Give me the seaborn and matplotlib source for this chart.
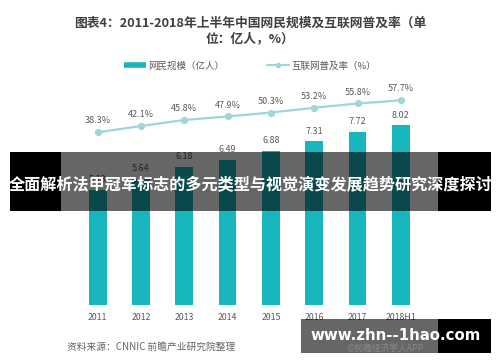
import matplotlib
matplotlib.use("Agg")
import matplotlib.pyplot as plt
import seaborn as sns
import pandas as pd
from matplotlib.lines import Line2D
from matplotlib.patches import Rectangle

years = ["2011", "2012", "2013", "2014", "2015", "2016", "2017", "2018H1"]
users = [5.13, 5.64, 6.18, 6.49, 6.88, 7.31, 7.72, 8.02]
rates = [38.3, 42.1, 45.8, 47.9, 50.3, 53.2, 55.8, 57.7]

title_text = "图表4：2011-2018年上半年中国网民规模及互联网普及率（单\n位：亿人，%）"
legend_bar = "网民规模（亿人）"
legend_line = "互联网普及率（%）"
source_text = "资料来源：CNNIC 前瞻产业研究院整理"
banner_text = "全面解析法甲冠军标志的多元类型与视觉演变发展趋势研究深度探讨"
watermark_text = "www.zhn--1hao.com"
app_text = "@前瞻经济学人APP"

sns.set_theme(style="white")
plt.rcParams['font.family'] = ['Noto Sans CJK SC', 'DejaVu Sans']

BAR = "#17b6bc"
LINE = "#9ed6da"
GRAY = "#595959"

df = pd.DataFrame({"year": years, "users": users, "rate": rates})

fig = plt.figure(figsize=(5.0, 3.62), dpi=100)
ax = fig.add_axes([0.152, 0.1575, 0.693, 0.619])
sns.barplot(data=df, x="year", y="users", color=BAR, width=0.41, ax=ax,
            saturation=1, edgecolor="none")
ax.set_ylim(0, 10)
ax.set_xlim(-0.5, len(years) - 0.5)
for i, v in enumerate(users):
    ax.annotate(f"{v:.2f}", (i, v), xytext=(0, 4), textcoords="offset points",
                ha="center", va="bottom", fontsize=6.5, color=GRAY)

ax2 = ax.twinx()
sns.pointplot(data=df, x="year", y="rate", color=LINE, markers="o",
              markersize=4, linewidth=1.6, ax=ax2)
ax2.set_ylim(-66.5, 69.5)
ax2.set_xlim(-0.5, len(years) - 0.5)
for i, v in enumerate(rates):
    ax2.annotate(f"{v:.1f}%", (i, v), xytext=(0, 5), textcoords="offset points",
                 ha="center", va="bottom", fontsize=6.5, color=GRAY)

for a in (ax, ax2):
    for s in a.spines.values():
        s.set_visible(False)
    a.set_yticks([])
    a.set_ylabel("")
    a.set_xlabel("")
    a.patch.set_alpha(0)
ax.tick_params(axis="x", length=0, pad=6, labelsize=6.3, labelcolor=GRAY)
ax2.tick_params(axis="x", length=0)

fig.text(0.5, 0.955, title_text, ha="center", va="top", fontsize=9.2,
         fontweight="bold", color="#3f3f3f", linespacing=1.35)

handles = [Line2D([0], [0], color=BAR, lw=4, solid_capstyle="butt"),
           Line2D([0], [0], color=LINE, lw=1.5, marker="o", markersize=3)]
fig.legend(handles, [legend_bar, legend_line], loc="center",
           bbox_to_anchor=(0.5, 0.818), ncol=2, frameon=False, fontsize=6.8,
           handlelength=2.3, columnspacing=4.5, handletextpad=0.3,
           labelcolor=GRAY)

fig.text(0.134, 0.041, source_text, ha="left", va="center", fontsize=7,
         color="#666666", style="italic")

# banner overlay
W, H = 500, 362
def rect(x0, y0, x1, y1, color, alpha):
    fig.patches.append(Rectangle((x0 / W, 1 - y1 / H), (x1 - x0) / W, (y1 - y0) / H,
                                 transform=fig.transFigure, facecolor=color,
                                 alpha=alpha, edgecolor="none", zorder=5))

rect(10, 152, 61, 211, "black", 1)
rect(61, 152, 438, 211, "black", 0.6)
rect(438, 152, 491, 211, "black", 1)
fig.text(250.5 / W, 1 - 185 / H, banner_text, ha="center", va="center",
         fontsize=11.6, fontweight="bold", color="white", zorder=6)

# watermark
rect(301, 319, 438, 353, "black", 0.6)
rect(438, 319, 491, 353, "black", 1)
fig.text(385 / W, 1 - 348 / H, app_text, ha="center", va="center", fontsize=6.3,
         color="#8a8a8a", zorder=6)
fig.text(396 / W, 1 - 335 / H, watermark_text, ha="center", va="center",
         fontsize=10.8, fontweight="bold", color="white", zorder=7,
         family="DejaVu Sans")

fig.savefig("out.png", dpi=100)
